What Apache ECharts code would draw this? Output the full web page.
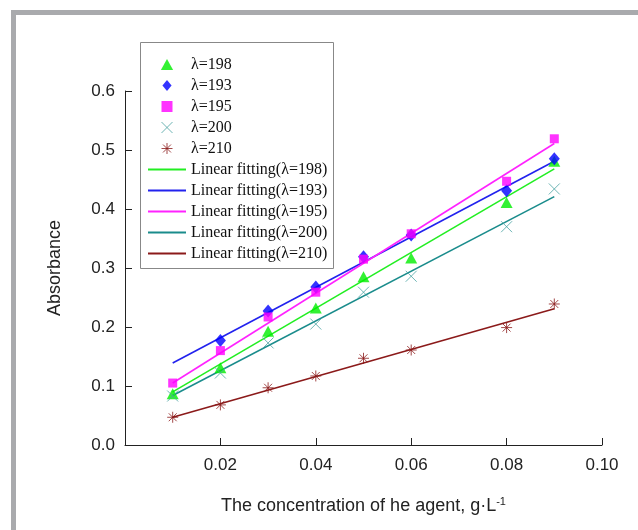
<!doctype html>
<html>
<head>
<meta charset="utf-8">
<title>Absorbance</title>
<script type="text/javascript" src="https://cdn.jsdelivr.net/npm/echarts@6/dist/echarts.min.js"></script>
</head>
<body style="margin:0;padding:0;background:#fff">
<div id="tb" style="width:638px;height:530px;"></div>
<script>
// concentration (g/L) and absorbance
var conc = [0.01, 0.02, 0.03, 0.04, 0.05, 0.06, 0.08, 0.09];
var a198 = [0.087, 0.131, 0.193, 0.232, 0.285, 0.317, 0.411, 0.481];
var a193 = [null, 0.177, 0.227, 0.268, 0.319, 0.356, 0.431, 0.485];
var a195 = [0.105, 0.160, 0.217, 0.259, 0.315, 0.358, 0.447, 0.519];
var a200 = [0.083, 0.122, 0.173, 0.205, 0.259, 0.286, 0.370, 0.434];
var a210 = [0.047, 0.068, 0.097, 0.117, 0.147, 0.161, 0.199, 0.239];
// fitted lines, end values read at x = 0.01 and x = 0.09
var fitX = [0.01, 0.09];
var fit198 = [0.090, 0.468];
var fit193 = [0.139, 0.481];
var fit195 = [0.105, 0.511];
var fit200 = [0.084, 0.421];
var fit210 = [0.047, 0.231];

var pts = function (ys) {
    var out = [];
    for (var i = 0; i < conc.length; i++) {
        if (ys[i] != null) out.push([conc[i], ys[i]]);
    }
    return out;
};
var fit = function (ys) {
    return [[fitX[0], ys[0]], [fitX[1], ys[1]]];
};

// path symbols keep their aspect in the legend
var triPath = 'path://M5,0L10,9L0,9Z';
var diaPath = 'path://M5,0L10,6L5,12L0,6Z';
var sqPath = 'path://M0,0L10,0L10,10L0,10Z';
var crossPath = 'path://M0,0L10,10M10,0L0,10';
var starPath = 'path://M5,0L5,10M0,5L10,5M1.4,1.4L8.6,8.6M8.6,1.4L1.4,8.6';

var bt = document.getElementById('tb');
var btchart = echarts.init(bt);

var fitLine = function (name, ys, color) {
    return {
        name: name, type: 'line', data: fit(ys), symbol: 'none', z: 2,
        lineStyle: { color: color, width: 1.6 }, itemStyle: { color: color }
    };
};
var lineItem = function (name) {
    return { name: name, itemStyle: { opacity: 0 } };
};

btchart.setOption({
    animation: false,
    textStyle: { fontFamily: 'Liberation Sans' },
    graphic: [
        // grey frame around the figure
        { type: 'rect', shape: { x: 11, y: 10, width: 627, height: 5 }, style: { fill: '#a9aaad' } },
        { type: 'rect', shape: { x: 11, y: 10, width: 5, height: 520 }, style: { fill: '#a9aaad' } },
        // legend box
        { type: 'rect', z: 10, shape: { x: 140.5, y: 42.5, width: 193, height: 226 },
          style: { fill: '#fff', stroke: '#888', lineWidth: 1 } }
    ],
    legend: {
        orient: 'vertical', left: 147, top: 56, z: 20,
        itemWidth: 38, itemHeight: 11, itemGap: 4, padding: 0,
        textStyle: { fontFamily: 'Liberation Serif', fontSize: 16, color: '#111', lineHeight: 17 },
        data: [
            'λ=198', 'λ=193', 'λ=195',
            { name: 'λ=200', itemStyle: { borderWidth: 1 } },
            { name: 'λ=210', itemStyle: { borderWidth: 1 } },
            lineItem('Linear fitting(λ=198)'), lineItem('Linear fitting(λ=193)'),
            lineItem('Linear fitting(λ=195)'), lineItem('Linear fitting(λ=200)'),
            lineItem('Linear fitting(λ=210)')
        ]
    },
    grid: { left: 125, right: 36, top: 91, bottom: 85, containLabel: false, outerBoundsMode: 'none' },
    xAxis: {
        type: 'value', min: 0, max: 0.1, interval: 0.02,
        name: 'The concentration of he agent, g·L{sup|-1}',
        nameLocation: 'middle', nameGap: 51,
        nameTextStyle: { fontSize: 18, color: '#222', rich: { sup: { fontSize: 11, verticalAlign: 'top', padding: [0, 0, 10, 0], color: '#222' } } },
        axisLine: { lineStyle: { color: '#222', width: 1 } },
        axisTick: { inside: true, length: 7, lineStyle: { color: '#222' } },
        axisLabel: { fontSize: 17, color: '#222', margin: 12, showMinLabel: false,
            formatter: function (v) { return v.toFixed(2); } },
        splitLine: { show: false }
    },
    yAxis: {
        type: 'value', min: 0, max: 0.6, interval: 0.1,
        name: 'Absorbance', nameLocation: 'middle', nameGap: 61,
        nameTextStyle: { fontSize: 18, color: '#222' },
        axisLine: { show: true, lineStyle: { color: '#222', width: 1 } },
        axisTick: { show: true, inside: true, length: 7, lineStyle: { color: '#222' } },
        axisLabel: { fontSize: 17, color: '#222', margin: 10,
            formatter: function (v) { return v.toFixed(1); } },
        splitLine: { show: false }
    },
    series: [
        { name: 'λ=198', type: 'scatter', data: pts(a198), z: 5,
          symbol: triPath, symbolSize: [12, 11], itemStyle: { color: '#00ee00' } },
        { name: 'λ=193', type: 'scatter', data: pts(a193), z: 5,
          symbol: diaPath, symbolSize: [11, 13], itemStyle: { color: '#0000ff' } },
        { name: 'λ=195', type: 'scatter', data: pts(a195), z: 5,
          symbol: sqPath, symbolSize: 9, itemStyle: { color: '#ff00ff' } },
        { name: 'λ=200', type: 'scatter', data: pts(a200), z: 5,
          symbol: crossPath, symbolSize: 11,
          itemStyle: { color: 'rgba(0,0,0,0)', borderColor: '#4aa3a3', borderWidth: 1 } },
        { name: 'λ=210', type: 'scatter', data: pts(a210), z: 5,
          symbol: starPath, symbolSize: 11,
          itemStyle: { color: 'rgba(0,0,0,0)', borderColor: '#8b1a1a', borderWidth: 1 } },
        fitLine('Linear fitting(λ=198)', fit198, '#22ee22'),
        fitLine('Linear fitting(λ=193)', fit193, '#2222ee'),
        fitLine('Linear fitting(λ=195)', fit195, '#ff22ff'),
        fitLine('Linear fitting(λ=200)', fit200, '#1a8c8c'),
        fitLine('Linear fitting(λ=210)', fit210, '#8b1a1a')
    ]
});
</script>
</body>
</html>
